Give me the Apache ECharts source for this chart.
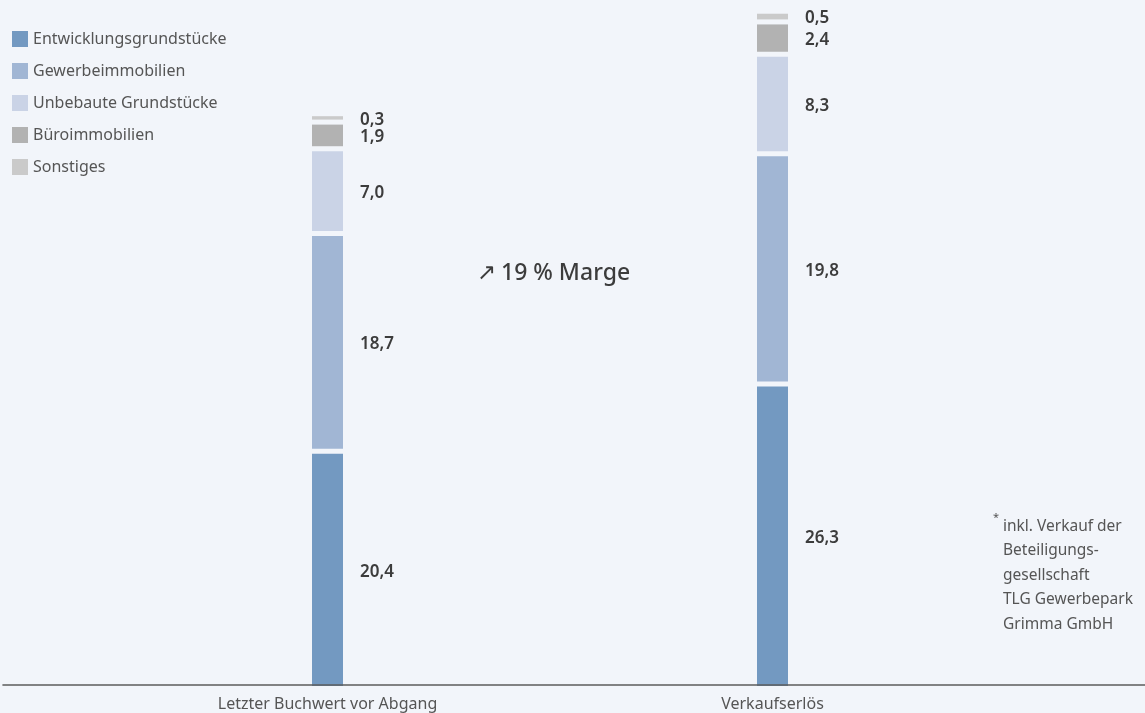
<!DOCTYPE html>
<html>
<head>
<meta charset="utf-8">
<script src="https://cdn.jsdelivr.net/npm/echarts@6/dist/echarts.min.js"></script>
<style>
html,body{margin:0;padding:0;background:#f2f5fa;}
#chart{width:1145px;height:713px;}
</style>
</head>
<body>
<div id="chart"></div>
<script>
const categories = ['Letzter Buchwert vor Abgang', 'Verkaufserlös'];
const seriesNames = ['Entwicklungsgrundstücke', 'Gewerbeimmobilien', 'Unbebaute Grundstücke', 'Büroimmobilien', 'Sonstiges'];
const entwicklung = [20.4, 26.3];
const gewerbe = [18.7, 19.8];
const unbebaut = [7.0, 8.3];
const buero = [1.9, 2.4];
const sonstiges = [0.3, 0.5];
const colors = ['#7399c1', '#a1b6d4', '#cad3e6', '#b2b2b2', '#cacaca'];
const footnote = ['inkl. Verkauf der', 'Beteiligungs-', 'gesellschaft', 'TLG Gewerbepark', 'Grimma GmbH'];
const margeText = '19 % Marge';

const levels = [entwicklung, gewerbe, unbebaut, buero, sonstiges];
const FONT = '"Noto Sans", "Open Sans", "DejaVu Sans", sans-serif';
const fmt = v => v.toFixed(1).replace('.', ',');

const base = categories.map(() => 0);
const series = levels.map((vals, li) => {
  const data = vals.map((v, ci) => {
    const d = [ci, base[ci], v, li];
    base[ci] += v;
    return d;
  });
  return {
    name: seriesNames[li],
    type: 'custom',
    xAxisIndex: 0,
    yAxisIndex: 0,
    itemStyle: { color: colors[li] },
    encode: { x: 0, y: 2 },
    data: data,
    renderItem: function (params, api) {
      const ci = api.value(0), b = api.value(1), v = api.value(2), lv = api.value(3);
      const p0 = api.coord([ci, b]);
      const p1 = api.coord([ci, b + v]);
      const bw = 31, gap = 5;
      const y0 = p0[1] - lv * gap;
      const y1 = p1[1] - lv * gap;
      return {
        type: 'group',
        children: [
          { type: 'rect', shape: { x: p0[0] - bw / 2, y: y1, width: bw, height: y0 - y1 },
            style: { fill: api.visual('color') } },
          { type: 'text', style: { text: fmt(v), x: p0[0] + bw / 2 + 17, y: (y0 + y1) / 2 + 2,
              verticalAlign: 'middle', align: 'left', fill: '#3c3c3c',
              font: '600 17px ' + FONT } }
        ]
      };
    }
  };
});

const chart = echarts.init(document.getElementById('chart'));
chart.setOption({
  backgroundColor: '#f2f5fa',
  animation: false,
  textStyle: { fontFamily: FONT },
  legend: {
    orient: 'vertical', left: 7, top: 26,
    itemWidth: 16, itemHeight: 16, itemGap: 16, icon: 'rect',
    textStyle: { fontSize: 16, color: '#555', fontFamily: FONT },
    data: seriesNames
  },
  grid: [
    { left: 105, width: 890, top: 3, bottom: 27 },
    { left: 3, right: 0, top: 3, bottom: 28 }
  ],
  xAxis: [
    { type: 'category', gridIndex: 0, data: categories,
      axisLine: { show: false }, axisTick: { show: false },
      axisLabel: { margin: 10, fontSize: 16, color: '#555', fontFamily: FONT } },
    { type: 'value', gridIndex: 1, min: 0, max: 1, z: 10,
      axisLine: { show: true, lineStyle: { color: '#5c5c5c', width: 1.6 } },
      axisTick: { show: false }, axisLabel: { show: false }, splitLine: { show: false } }
  ],
  yAxis: [
    { type: 'value', gridIndex: 0, min: 0, max: 60, show: false, splitLine: { show: false } },
    { type: 'value', gridIndex: 1, min: 0, max: 1, show: false }
  ],
  graphic: [
    { type: 'text', left: 477, top: 263, style: { text: '↗', font: '23px "DejaVu Sans", sans-serif', fill: '#3c3c3c' } },
    { type: 'text', left: 501, top: 262, style: { text: margeText, font: '500 23px ' + FONT, fill: '#3c3c3c' } },
    { type: 'text', left: 993, top: 512, style: { text: '*', font: '11px ' + FONT, fill: '#555' } },
    { type: 'text', left: 1003, top: 514, style: { text: footnote.join('\n'), font: '15.5px ' + FONT, lineHeight: 24.5, fill: '#555' } }
  ],
  series: series
});
</script>
</body>
</html>
